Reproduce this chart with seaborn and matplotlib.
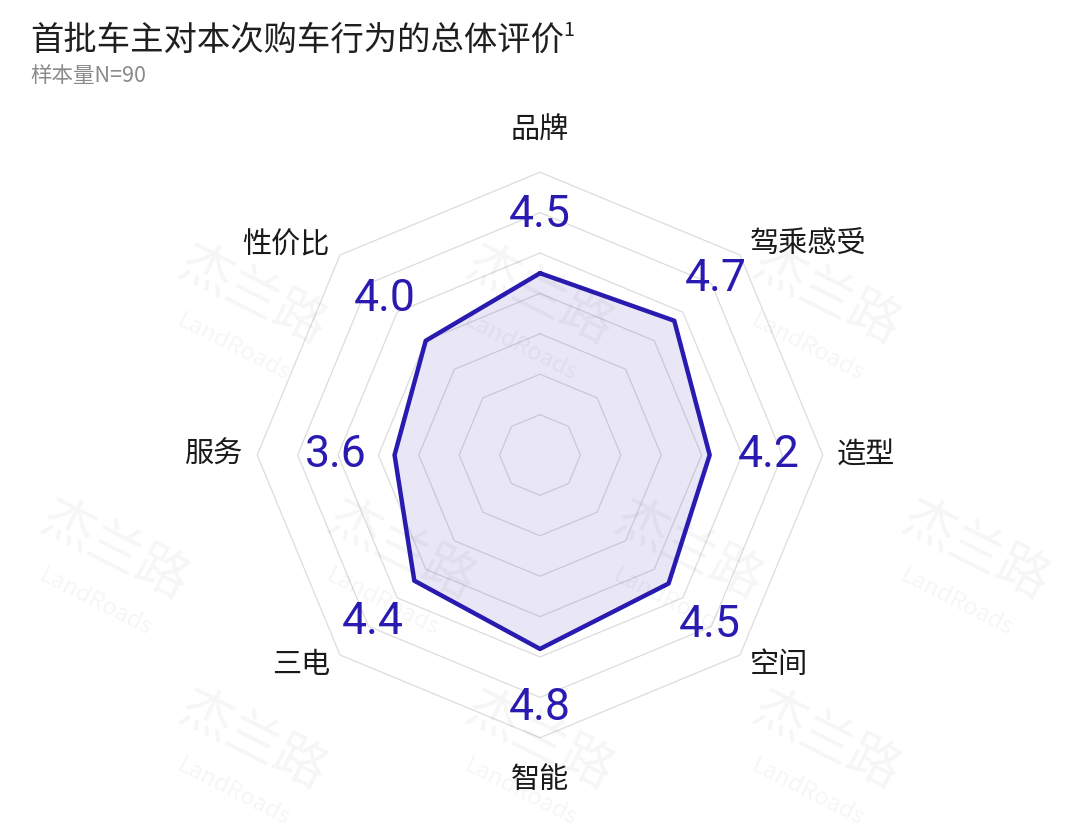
"""
Radar chart: first-batch owners' overall rating of this purchase (N=90).
"""

import numpy as np
import pandas as pd
import matplotlib
matplotlib.use("Agg")
import matplotlib.pyplot as plt
import seaborn as sns

# data
categories = ["品牌", "驾乘感受", "造型", "空间", "智能", "三电", "服务", "性价比"]
scores = [4.5, 4.7, 4.2, 4.5, 4.8, 4.4, 3.6, 4.0]
ring_levels = [1, 2, 3, 4, 5, 6, 7]

title = "首批车主对本次购车行为的总体评价"
title_note = "1"
subtitle = "样本量N=90"
watermark_cn = "杰兰路"
watermark_en = "LandRoads"

LINE_COLOR = "#2A1BB0"
GRID_COLOR = "#dcdcdc"

sns.set_theme(style="white")
plt.rcParams["font.family"] = ["Noto Sans CJK SC", "DejaVu Sans"]

W, H = 1080, 833
fig = plt.figure(figsize=(W / 100, H / 100), dpi=100)
fig.patch.set_facecolor("white")
ax = fig.add_axes([0, 0, 1, 1])

# chart centre (pixels from top-left) and pixels per score unit
cx, cy, unit = 540, 455, 40.4

n = len(categories)
theta = np.arange(n) * 2 * np.pi / n
dx, dy = np.sin(theta), np.cos(theta)

# octagonal grid rings
for lv in ring_levels:
    ax.plot(np.append(lv * dx, lv * dx[0]), np.append(lv * dy, lv * dy[0]),
            color=GRID_COLOR, lw=0.9, zorder=1)

df = pd.DataFrame({"category": categories, "score": scores})
df["x"] = df["score"] * dx
df["y"] = df["score"] * dy
closed = pd.concat([df, df.iloc[:1]], ignore_index=True)

ax.fill(closed["x"], closed["y"], color=LINE_COLOR, alpha=0.1, lw=0, zorder=2)
sns.lineplot(data=closed, x="x", y="y", sort=False, estimator=None,
             color=LINE_COLOR, lw=3.2, ax=ax, zorder=3)

# value labels, a fixed gap outside each vertex
for v, ux, uy in zip(scores, dx, dy):
    r = v + 1.45
    ax.text(r * ux, r * uy, f"{v:.1f}", ha="center", va="center",
            fontsize=32, family=["Roboto", "DejaVu Sans"], color=LINE_COLOR, zorder=4)

# category labels
for name, ux, uy in zip(categories, dx, dy):
    if abs(ux) < 1e-6:
        ax.text(8.05 * ux, 8.05 * uy, name, ha="center", va="center",
                fontsize=21, color="#1a1a1a")
    else:
        ax.text(7.35 * ux, 7.35 * uy, name, ha="left" if ux > 0 else "right",
                va="center", fontsize=21, color="#1a1a1a")

ax.set_xlim(-cx / unit, (W - cx) / unit)
ax.set_ylim(-(H - cy) / unit, cy / unit)
ax.set_aspect("equal")
ax.axis("off")

# faint watermarks (only the ones that sit fully inside the canvas)
for row, y in enumerate([40, 295, 550, 740]):
    x0 = 115 if row % 2 == 0 else 253
    for k in range(0, 4):
        x = x0 + 287 * k
        if x < 100 or x > W - 100 or y < 50:
            continue
        fig.text(x / W, 1 - y / H, watermark_cn, fontsize=38, rotation=-27,
                 ha="center", va="center", color="black", alpha=0.04,
                 rotation_mode="anchor")
        fig.text((x - 20) / W, 1 - (y + 52) / H, watermark_en, fontsize=17,
                 rotation=-27, ha="center", va="center", color="black",
                 alpha=0.04, rotation_mode="anchor")

# title and subtitle
t = fig.text(30 / W, 1 - 40 / H, title, fontsize=24, va="center", color="#1f1f1f")
fig.canvas.draw()
bb = t.get_window_extent()
fig.text(bb.x1 / W - 0.001, 1 - 31 / H, title_note, fontsize=14, va="center",
         color="#1f1f1f")
fig.text(30 / W, 1 - 76 / H, subtitle, fontsize=15.5, va="center", color="#8a8a8a")

fig.savefig("out.png", dpi=100, facecolor="white")
